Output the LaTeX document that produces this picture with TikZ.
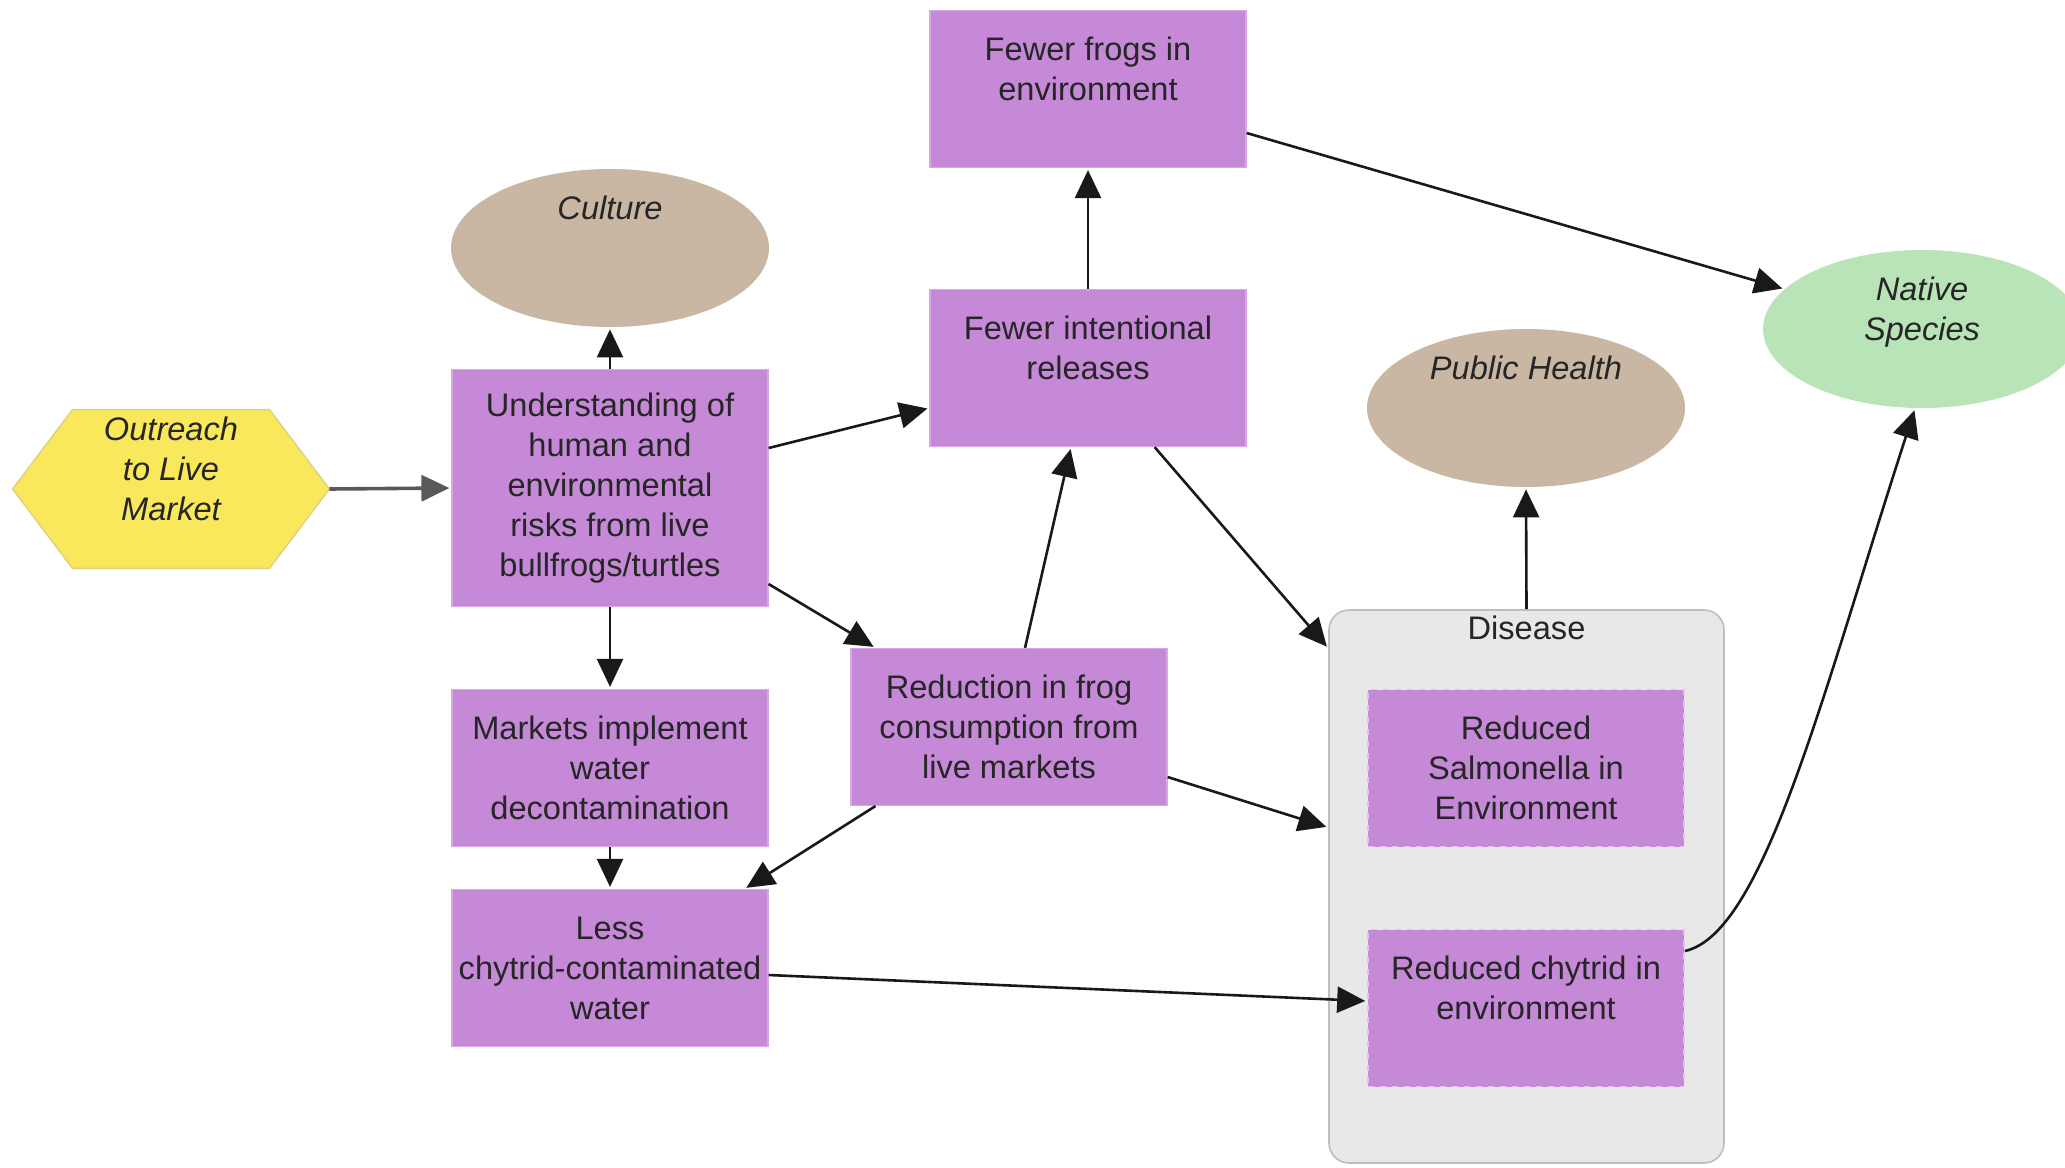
\documentclass[tikz,border=0pt]{standalone}
\usepackage{fontspec}
\setmainfont{Liberation Sans}
\usetikzlibrary{arrows.meta,shapes.geometric,backgrounds}

\definecolor{boxpurple}{RGB}{197,137,215}
\definecolor{boxedge}{RGB}{214,168,228}
\definecolor{tan}{RGB}{201,183,163}
\definecolor{nativegreen}{RGB}{184,228,184}
\definecolor{hexyellow}{RGB}{250,232,92}
\definecolor{hexedge}{RGB}{226,210,128}
\definecolor{diseasegray}{RGB}{232,232,232}
\definecolor{diseaseedge}{RGB}{190,190,190}

\tikzset{
  every node/.style={font=\fontsize{16.3}{20}\selectfont, text=black!85, align=center},
  factor/.style={rectangle, fill=boxpurple, draw=boxedge, line width=0.6pt,
    minimum width=158pt, minimum height=78.5pt, inner sep=0pt},
  effect/.style={factor, draw=boxedge!70!white, dashed, line width=0.8pt},
  target/.style={ellipse, minimum width=159pt, minimum height=79pt, inner sep=0pt},
  goaltext/.style={font=\fontsize{16.3}{20}\selectfont\itshape},
  hexnode/.style={rectangle, minimum width=158pt, minimum height=79pt, inner sep=0pt,
    font=\fontsize{16.3}{20}\selectfont\itshape},
  container/.style={rectangle, rounded corners=10pt, fill=diseasegray, draw=diseaseedge,
    line width=0.8pt, minimum width=197.5pt, minimum height=276.5pt},
  flow/.style={draw=black!90, line width=1.3pt, shorten >=1pt,
    -{Triangle[length=14pt,width=13pt]}}
}

\begin{document}
\begin{tikzpicture}[x=0.5pt,y=-0.5pt]
\useasboundingbox (0,0) rectangle (2065,1167);

% Outreach (hexagon)
\node[hexnode] (outreach) at (171,489) {Outreach\\to Live\\Market\\~};
\begin{scope}[on background layer]
  \filldraw[fill=hexyellow, draw=hexedge, line width=0.8pt]
    (outreach.west) -- ([xshift=30pt]outreach.north west) -- ([xshift=-30pt]outreach.north east)
    -- (outreach.east) -- ([xshift=-30pt]outreach.south east) -- ([xshift=30pt]outreach.south west) -- cycle;
\end{scope}

% Goals
\node[target, fill=tan, label={[goaltext]center:Culture\\~\\~}] (culture) at (610,248) {};
\node[target, fill=tan, label={[goaltext]center:Public Health\\~\\~}] (health) at (1526,408) {};
\node[target, fill=nativegreen, label={[goaltext]center:Native\\Species\\~}] (native) at (1922,329) {};

% Left column
\node[factor, minimum height=118.5pt] (understanding) at (610,488)
  {Understanding of\\human and\\environmental\\risks from live\\bullfrogs/turtles};
\node[factor] (markets) at (610,768) {Markets implement\\water\\decontamination};
\node[factor] (less) at (610,968) {Less\\chytrid-contaminated\\water};

% Middle column
\node[factor] (frogs) at (1088,89) {Fewer frogs in\\environment\\~};
\node[factor] (releases) at (1088,368) {Fewer intentional\\releases\\~};
\node[factor] (reduction) at (1009,727) {Reduction in frog\\consumption from\\live markets};

% Disease group
\node[container, label={[anchor=north, inner sep=3pt]north:Disease}] (disease) at (1526.5,886.5) {};
\node[effect] (salmonella) at (1526,768) {Reduced\\Salmonella in\\Environment};
\node[effect] (chytrid) at (1526,1008) {Reduced chytrid in\\environment\\~};

% Connectors
\draw[flow, draw=black!65, line width=1.8pt] (outreach.east) -- (understanding.west);
\draw[flow] (understanding.north) -- (culture.south);
\draw[flow] (understanding.south) -- (markets.north);
\draw[flow] (markets.south) -- (less.north);
\draw[flow] ([yshift=20pt]understanding.east) -- ([yshift=-20pt]releases.west);
\draw[flow] ([yshift=-48pt]understanding.east) -- ([xshift=12.5pt]reduction.north west);
\draw[flow] ([xshift=8pt]reduction.north) -- ([xshift=-8.5pt]releases.south);
\draw[flow] (releases.north) -- (frogs.south);
\draw[flow] ([yshift=-22pt]frogs.east) -- (native);
\draw[flow] ([xshift=-46pt]releases.south east) -- ([yshift=-19.5pt]disease.north west);
\draw[flow] ([yshift=-25pt]reduction.east) -- ([yshift=29.5pt]disease.west);
\draw[flow] ([xshift=12.5pt]reduction.south west) -- ([xshift=-12pt]less.north east);
\draw[flow] ([yshift=-3.5pt]less.east) -- ([yshift=3.5pt]chytrid.west);
\draw[flow] (disease.north) -- (health.south);
\draw[flow] ([yshift=28.5pt]chytrid.east)
  to[out=12, in=-108, out looseness=0.35, in looseness=1.3] (native.265);

\end{tikzpicture}
\end{document}
